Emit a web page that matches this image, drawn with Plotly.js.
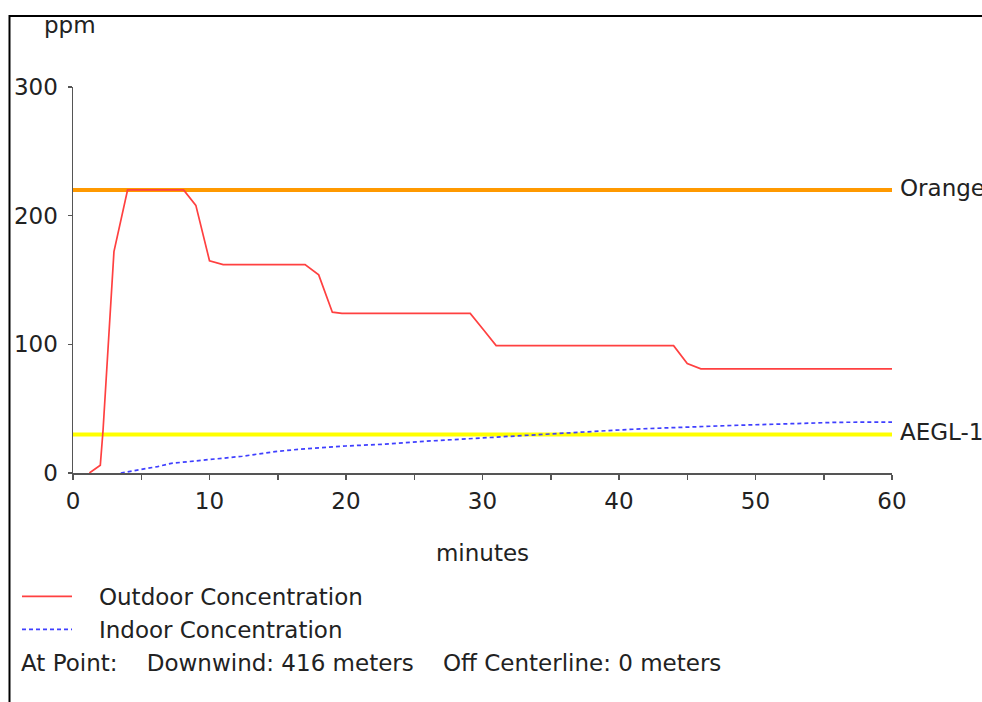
<!DOCTYPE html>
<html>
<head>
<meta charset="utf-8">
<script src="https://cdn.plot.ly/plotly-3.0.1.min.js"></script>
<style>html,body{margin:0;padding:0;background:#fff;} #chart{width:982px;height:702px;}</style>
</head>
<body>
<div id="chart"></div>
<script>
// Outdoor concentration (ppm) vs minutes
const timeOutdoor = [1.2, 2, 2.2, 3, 4, 8.1, 9, 10, 11, 17, 18, 19, 19.7, 29.1, 30.1, 31, 44, 45, 46, 60];
const outdoorPpm  = [0, 6, 33, 172, 220, 220, 208, 165, 162, 162, 154, 125, 124, 124, 111, 99, 99, 85, 81, 81];
// Indoor concentration (ppm) vs minutes
const timeIndoor = [3.5, 6.2, 7.2, 9.9, 12.4, 14.8, 16.7, 20, 22.6, 26.2, 28.2, 30.1, 32.3, 34.3, 37, 39.6, 41.8, 44.5, 48.4, 52.6, 56, 60];
const indoorPpm  = [0, 5, 7.5, 10.6, 13, 16.6, 18.6, 21, 22.3, 24.9, 26.2, 27.4, 28.8, 30, 31.6, 33.2, 34.4, 35.7, 37, 38.3, 39.4, 39.6];
// Threshold levels
const levelNames = ["Orange", "AEGL-1"];
const levelValues = [220, 30];
const levelRange = [0, 60];
const xTicks = [0, 10, 20, 30, 40, 50, 60];
const yTicks = [0, 100, 200, 300];
const seriesNames = ["Outdoor Concentration", "Indoor Concentration"];
const pointText = "At Point:\u00a0\u00a0\u00a0 Downwind: 416 meters\u00a0\u00a0\u00a0 Off Centerline: 0 meters";

const FONT = "DejaVu Sans, Verdana, sans-serif";
const FS = 23;
const TXT = "#222";
const levelColors = ["#ff9900", "#ffff00"];

const traces = [];
levelValues.forEach((v, i) => {
  traces.push({
    x: levelRange, y: [v, v], mode: "lines", showlegend: false, hoverinfo: "skip",
    line: {color: levelColors[i], width: 4}
  });
});
traces.push({
  x: timeOutdoor, y: outdoorPpm, mode: "lines", name: "\u00a0\u00a0\u00a0" + seriesNames[0],
  line: {color: "#ff4040", width: 1.7}
});
traces.push({
  x: timeIndoor, y: indoorPpm, mode: "lines", name: "\u00a0\u00a0\u00a0" + seriesNames[1],
  line: {color: "#3f3fff", width: 1.7, dash: "4px,3px"}
});

const annotations = levelValues.map((v, i) => ({
  x: 60, y: v, xref: "x", yref: "y", text: levelNames[i], showarrow: false,
  xanchor: "left", yanchor: "middle", xshift: 6, yshift: 2, font: {family: FONT, size: FS, color: TXT}
}));
annotations.push({
  x: (45 - 73) / 819, y: (473 - 25) / 386, xref: "paper", yref: "paper", text: "ppm",
  showarrow: false, xanchor: "left", yanchor: "middle", xshift: -3, font: {family: FONT, size: FS, color: TXT}
});
annotations.push({
  x: (22 - 73) / 819, y: (473 - 663) / 386, xref: "paper", yref: "paper", text: pointText,
  showarrow: false, xanchor: "left", yanchor: "middle", xshift: -3, font: {family: FONT, size: FS, color: TXT}
});

const layout = {
  width: 982, height: 702,
  margin: {l: 73, r: 90, t: 87, b: 229, pad: 0},
  paper_bgcolor: "#fff", plot_bgcolor: "#fff",
  font: {family: FONT, size: FS, color: TXT},
  showlegend: true,
  legend: {
    x: (17 - 73) / 819, y: (473 - 575) / 386, xanchor: "left", yanchor: "top",
    itemwidth: 50, bgcolor: "rgba(0,0,0,0)", font: {family: FONT, size: FS, color: TXT},
    tracegroupgap: 0
  },
  xaxis: {
    range: [0, 60], tickvals: xTicks, ticks: "outside", ticklen: 5, tickwidth: 1.5, tickcolor: "#555",
    showline: true, linecolor: "#555", linewidth: 1.5, showgrid: false, zeroline: false,
    ticklabelstandoff: 2,
    minor: {dtick: 5, tick0: 0, ticks: "outside", ticklen: 5, tickwidth: 1.5, tickcolor: "#555", showgrid: false},
    title: {text: "minutes", standoff: 32, font: {family: FONT, size: FS, color: TXT}},
    fixedrange: true
  },
  yaxis: {
    range: [0, 300], tickvals: yTicks, ticks: "outside", ticklen: 4, tickwidth: 1.5, tickcolor: "#555",
    showline: true, linecolor: "#555", linewidth: 1.5, showgrid: false, zeroline: false,
    ticklabelstandoff: 5, fixedrange: true
  },
  annotations: annotations,
  shapes: [{
    type: "rect", xref: "paper", yref: "paper",
    x0: (9.5 - 73) / 819, x1: 1.3, y0: -1, y1: (473 - 16) / 386,
    line: {color: "#000", width: 2}, fillcolor: "rgba(0,0,0,0)", layer: "below"
  }]
};

Plotly.newPlot("chart", traces, layout, {displayModeBar: false, staticPlot: true});
</script>
</body>
</html>
